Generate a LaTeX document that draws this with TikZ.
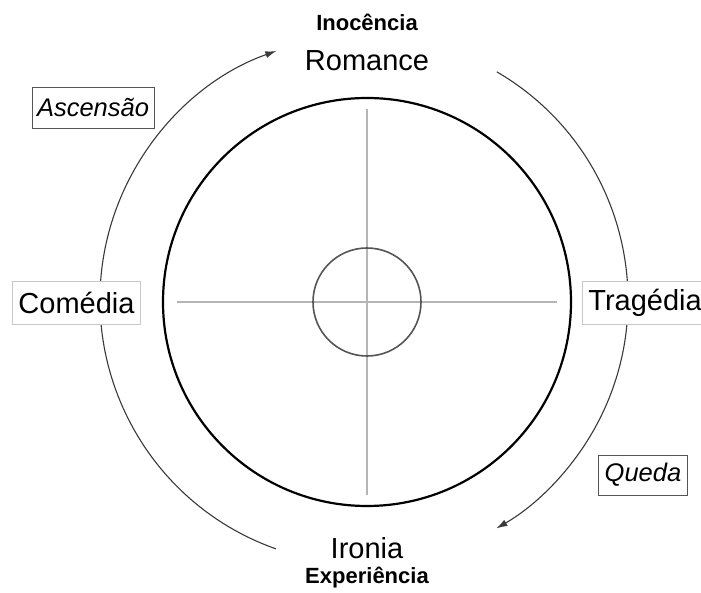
\documentclass[tikz,border=0pt]{standalone}
\usepackage{fontspec}
\setmainfont{Liberation Sans}
\usepackage{tikz}
\usetikzlibrary{positioning,arrows.meta,calc}
\definecolor{rimgray}{HTML}{3A3A3A}
\definecolor{hubgray}{HTML}{555555}
\definecolor{crossgray}{HTML}{B5B5B5}
\definecolor{boxlight}{HTML}{C8C8C8}
\definecolor{boxdark}{HTML}{555555}
\tikzset{
    mythos/.style={
        font=\fontsize{29}{34}\selectfont, inner sep=0pt
    },
    pole/.style={
        font=\fontsize{22}{26}\selectfont\bfseries, inner sep=0pt
    },
    modebox/.style={
        draw=boxlight, fill=white, line width=0.8pt,
        minimum height=43pt, inner xsep=6pt, inner ysep=0pt,
        font=\fontsize{29}{34}\selectfont
    },
    motionbox/.style={
        draw=boxdark, fill=white, line width=0.9pt,
        minimum height=41pt, inner xsep=5pt, inner ysep=0pt,
        font=\fontsize{25.5}{30}\selectfont\itshape
    },
    arrow/.style={-{Latex[length=11pt,width=7pt]}, line width=1.1pt, color=rimgray},
}
\begin{document}
\begin{tikzpicture}[x=1pt, y=1pt]
    \useasboundingbox[fill=white] (0,0) rectangle (701,592);
    \coordinate (hub) at (367,290);
    \coordinate (orbit) at (364,292);

    % cycle of the seasons
    \draw[line width=2.2pt] (hub) circle[radius=204];
    \draw[crossgray, line width=2pt] (177,290) -- (557,290);
    \draw[crossgray, line width=2pt] (367,483) -- (367,97);
    \draw[hubgray, line width=1.6pt] (hub) circle[radius=54];

    % outer movement
    \coordinate (ascfrom) at ($(orbit)+(250.5:264)$);
    \coordinate (fallfrom) at ($(orbit)+(59.8:264)$);
    \draw[arrow] (ascfrom) arc[start angle=250.5, end angle=109.4, radius=264];
    \draw[arrow] (fallfrom) arc[start angle=59.8, end angle=-59.9, radius=264];

    % labels
    \node[pole] (innocence) at (367,570) {Inocência};
    \node[mythos] (romance) at (367,531) {Romance};
    \node[mythos] (irony) at (367,44) {Ironia};
    \node[pole] (experience) at (367,14) {Experiência};
    \node[modebox] (comedy) at (76.5,289.5) {Comédia};
    \node[modebox, anchor=west] (tragedy) at (582,289) {Tragédia};
    \node[motionbox] (ascent) at (93,484.5) {Ascensão};
    \node[motionbox, minimum height=40pt, inner xsep=6pt] (fall) at (643,117) {Queda};
\end{tikzpicture}
\end{document}
